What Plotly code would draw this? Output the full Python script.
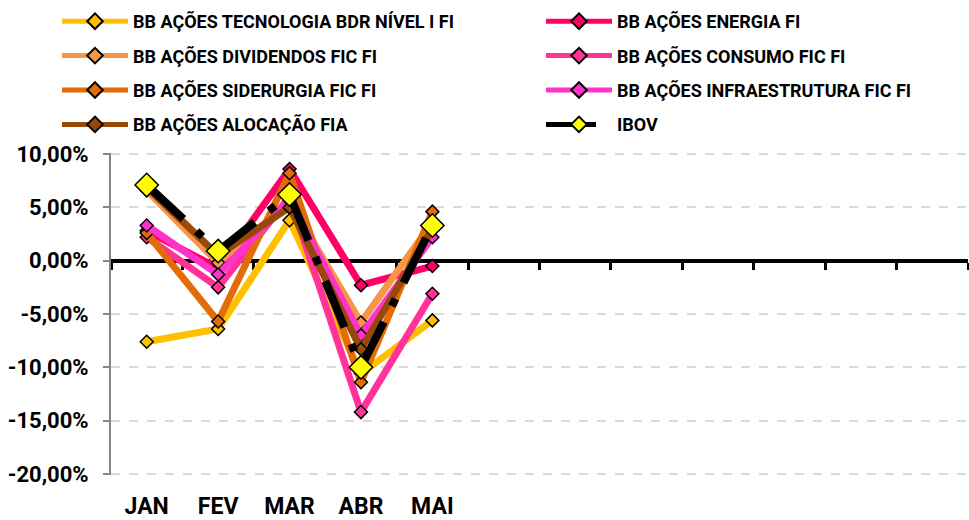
import plotly.graph_objects as go

months = ["JAN", "FEV", "MAR", "ABR", "MAI"]
all_cats = months + [" " * i for i in range(1, 8)]

series_names = [
    "BB AÇÕES TECNOLOGIA BDR NÍVEL I FI",
    "BB AÇÕES ENERGIA FI",
    "BB AÇÕES DIVIDENDOS FIC FI",
    "BB AÇÕES CONSUMO FIC FI",
    "BB AÇÕES SIDERURGIA FIC FI",
    "BB AÇÕES INFRAESTRUTURA FIC FI",
    "BB AÇÕES ALOCAÇÃO FIA",
    "IBOV",
]

tecnologia = [-7.6, -6.4, 3.8, -10.6, -5.6]
energia = [2.8, -0.7, 8.6, -2.3, -0.5]
dividendos = [6.6, -0.2, 5.5, -5.8, 3.6]
consumo = [2.2, -2.5, 6.0, -14.2, -3.1]
siderurgia = [2.6, -5.7, 8.2, -11.4, 4.6]
infraestrutura = [3.3, -1.3, 5.7, -7.0, 2.2]
alocacao = [6.9, 0.5, 5.0, -8.3, 3.0]
ibov = [7.1, 0.9, 6.2, -10.0, 3.3]

values = [tecnologia, energia, dividendos, consumo, siderurgia, infraestrutura, alocacao, ibov]
colors = ["#FFC000", "#FF0066", "#F79646", "#FF3399", "#E36C09", "#FF33CC", "#984807", "#000000"]
legend_ids = ["legend", "legend2", "legend", "legend2", "legend", "legend2", "legend", "legend2"]

y_ticks = [-20, -15, -10, -5, 0, 5, 10]
y_tick_text = ["-20,00%", "-15,00%", "-10,00%", "-5,00%", "0,00%", "5,00%", "10,00%"]

FONT = "Roboto, sans-serif"

fig = go.Figure()
# empty trace so that the zero-line axis (x2) with boundary ticks is drawn
fig.add_trace(go.Scatter(x=[], y=[], xaxis="x2", yaxis="y", showlegend=False,
                         hoverinfo="skip"))
for i, (name, vals, col, lg) in enumerate(zip(series_names, values, colors, legend_ids)):
    is_ibov = name == "IBOV"
    fig.add_trace(go.Scatter(
        x=months, y=vals, name=name, mode="lines+markers",
        line=dict(color=col, width=8 if is_ibov else 7,
                  dash="50px,18px,8px,18px" if is_ibov else "solid"),
        marker=dict(symbol="diamond", size=18 if is_ibov else 10,
                    color="#FFFF00" if is_ibov else col,
                    line=dict(color="#000000", width=1.5)),
        legend=lg, legendgroup=name, xaxis="x", yaxis="y",
    ))

legend_common = dict(xref="container", yref="container", y=1.0 - 3 / 520,
                     xanchor="left", yanchor="top", orientation="v",
                     itemwidth=66, tracegroupgap=8, itemsizing="constant",
                     font=dict(family=FONT, size=18, color="#000000", weight="bold"),
                     bgcolor="rgba(0,0,0,0)")

fig.update_layout(
    width=969, height=520,
    margin=dict(l=111, r=1, t=153, b=45, autoexpand=False),
    paper_bgcolor="white", plot_bgcolor="white",
    font=dict(family=FONT, size=16, color="#000000"),
    showlegend=True,
    legend=dict(x=57 / 969, **legend_common),
    legend2=dict(x=541 / 969, **legend_common),
    xaxis=dict(type="category", categoryorder="array", categoryarray=all_cats,
               range=[-0.5, 11.5], showgrid=False, zeroline=False, showline=False,
               ticks="", tickvals=months, ticktext=months, ticklabelstandoff=15,
               tickfont=dict(family=FONT, size=23, color="#000000", weight="bold"),
               fixedrange=True),
    xaxis2=dict(overlaying="x", anchor="free", position=20.1 / 30.2, type="linear",
                range=[-0.5, 11.5], tick0=-0.5, dtick=1, ticks="outside",
                ticklen=7, tickwidth=3, tickcolor="#000000",
                showline=True, linecolor="#000000", linewidth=3,
                showticklabels=False, showgrid=False, zeroline=False,
                layer="below traces", fixedrange=True),
    yaxis=dict(range=[-20.1, 10.1], tickvals=y_ticks, ticktext=y_tick_text,
               showgrid=True, gridcolor="#D9D9D9", gridwidth=2, griddash="dash",
               zeroline=True, zerolinecolor="#000000", zerolinewidth=3,
               showline=True, linecolor="#868686", linewidth=2,
               ticks="outside", ticklen=6, tickcolor="#868686", tickwidth=2,
               ticklabelstandoff=10, fixedrange=True,
               tickfont=dict(family=FONT, size=22, color="#000000", weight="bold")),
)

fig.write_html("out.html", config={"displayModeBar": False},
               post_script="document.body.style.margin='0';")
